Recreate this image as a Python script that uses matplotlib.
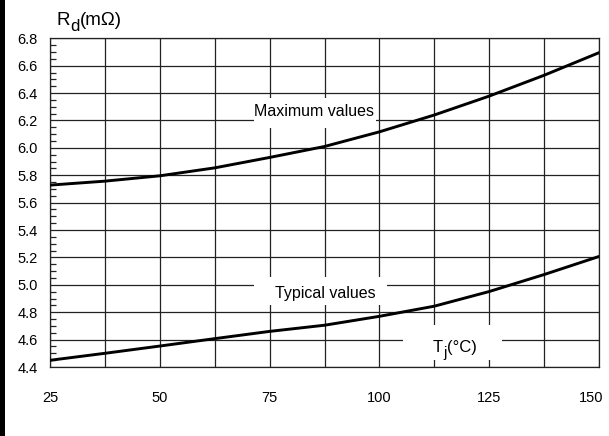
import matplotlib
matplotlib.use('Agg')
import matplotlib.pyplot as plt
from matplotlib.patches import Rectangle
from matplotlib.ticker import MultipleLocator
from matplotlib.transforms import ScaledTranslation

# ================= Data =================
tj = [25, 37.5, 50, 62.5, 75, 87.5, 100, 112.5, 125, 137.5, 150]
rd_max = [5.728, 5.757, 5.796, 5.854, 5.93, 6.01, 6.117, 6.24, 6.378, 6.53, 6.695]
rd_typ = [4.449, 4.50, 4.553, 4.607, 4.66, 4.705, 4.77, 4.844, 4.951, 5.075, 5.207]
x_ticks = [25, 50, 75, 100, 125, 150]
y_ticks = [4.4, 4.6, 4.8, 5.0, 5.2, 5.4, 5.6, 5.8, 6.0, 6.2, 6.4, 6.6, 6.8]
# ======================================================================

plt.rcParams['font.family'] = ['Liberation Sans', 'DejaVu Sans']


def sub_label(ax, x, y, main, sub, rest, size, transform):
    # main text + dropped subscript + rest, chained one after another
    t1 = ax.text(x, y, main, fontsize=size, ha='left', va='baseline',
                 transform=transform, zorder=3)
    t2 = ax.annotate(sub, xy=(1, 0), xycoords=t1, xytext=(0, -3.5),
                     textcoords='offset points', fontsize=size * 0.9,
                     ha='left', va='bottom', zorder=3)
    ax.annotate(rest, xy=(1, 0), xycoords=t2, xytext=(0.3, 3.5),
                textcoords='offset points', fontsize=size,
                ha='left', va='bottom', zorder=3)


fig = plt.figure(figsize=(6.09, 4.36), dpi=100)
ax = fig.add_axes([50 / 609, 1 - 367 / 436, 549 / 609, 328.7 / 436])

grid_col = '#222222'
ax.plot(tj, rd_max, color='black', linewidth=2.1, zorder=4)
ax.plot(tj, rd_typ, color='black', linewidth=2.1, zorder=4)

ax.set_xlim(25, 150)
ax.set_ylim(4.4, 6.8)
ax.set_xticks(x_ticks)
ax.set_yticks(y_ticks)
ax.set_yticklabels([f'{v:.1f}' for v in y_ticks])
ax.xaxis.set_minor_locator(MultipleLocator(12.5))
ax.yaxis.set_minor_locator(MultipleLocator(0.05))

ax.set_axisbelow(True)
ax.grid(True, which='major', axis='both', color=grid_col, linewidth=0.9)
ax.grid(True, which='minor', axis='x', color=grid_col, linewidth=0.9)

ax.tick_params(axis='x', which='both', length=0, pad=17, labelsize=10.5)
ax.tick_params(axis='y', which='major', length=0, pad=9, labelsize=10.5)
ax.tick_params(axis='y', which='minor', direction='in', length=4, width=0.9,
               color=grid_col)
for s in ax.spines.values():
    s.set_color(grid_col)
    s.set_linewidth(0.9)

# last x label sits a little to the left so it stays inside the picture
last = ax.get_xticklabels()[-1]
last.set_transform(last.get_transform() + ScaledTranslation(-6 / 72, 0, fig.dpi_scale_trans))

# white boxes that break the grid behind the curve labels
for (x0, y0, w, h) in [(71.4, 6.144, 27.8, 0.219),
                       (71.4, 4.850, 30.3, 0.205),
                       (105.4, 4.449, 22.5, 0.256)]:
    ax.add_patch(Rectangle((x0, y0), w, h, facecolor='white', edgecolor='none',
                           zorder=2.5))

ax.text(85.0, 6.232, 'Maximum values', fontsize=11.5, ha='center', va='baseline',
        zorder=3)
ax.text(87.7, 4.902, 'Typical values', fontsize=11.5, ha='center', va='baseline',
        zorder=3)
sub_label(ax, 112.2, 4.507, 'T', 'j', '(°C)', 12, ax.transData)

sub_label(ax, 57 / 609, 1 - 25 / 436, 'R', 'd', '(mΩ)', 13.5, fig.transFigure)

# black bar along the left edge of the figure
fig.patches.append(Rectangle((0, 0), 5 / 609, 1, transform=fig.transFigure,
                             facecolor='black', edgecolor='none'))

fig.savefig('out.png', dpi=100)
